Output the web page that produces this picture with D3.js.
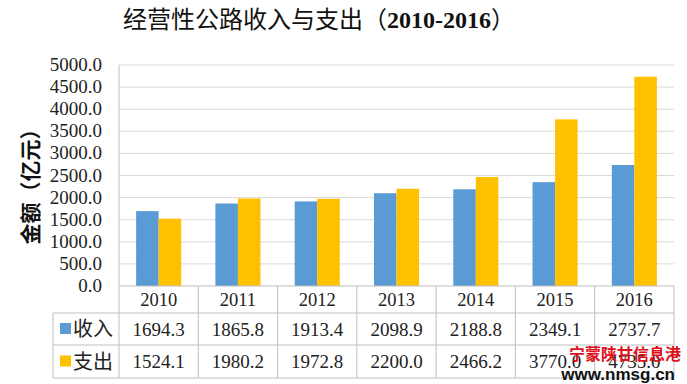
<!DOCTYPE html>
<html>
<head>
<meta charset="utf-8">
<script src="https://cdn.jsdelivr.net/npm/d3@7"></script>
<style>
  body { margin: 0; background: #fff; }
  svg text { font-family: "Liberation Serif", "Noto Sans CJK SC", serif; }
</style>
</head>
<body>
<div id="chart"></div>
<script>
const years   = ["2010", "2011", "2012", "2013", "2014", "2015", "2016"];
const income  = [1694.3, 1865.8, 1913.4, 2098.9, 2188.8, 2349.1, 2737.7];
const expense = [1524.1, 1980.2, 1972.8, 2200.0, 2466.2, 3770.0, 4735.0];
const seriesNames  = ["收入", "支出"];
const seriesColors = ["#5B9BD5", "#FFC000"];
const yTicks = [0, 500, 1000, 1500, 2000, 2500, 3000, 3500, 4000, 4500, 5000];

const W = 687, H = 384;
const PLOT = { left: 119, right: 674, top: 65, bottom: 286 };
const ROW = [286, 313, 345, 378];
const LEG_X = 53;
const GRID = "#D9D9D9", TABLE = "#BFBFBF";
const CJK = "'Noto Sans CJK SC', sans-serif";

const svg = d3.select("#chart").append("svg")
  .attr("width", W).attr("height", H);

const x0 = d3.scaleBand().domain(years).range([PLOT.left, PLOT.right]);
const x1 = d3.scaleBand().domain(seriesNames)
  .range([0, x0.bandwidth()]).paddingOuter(0.76);
const y = d3.scaleLinear().domain([0, 5000]).range([PLOT.bottom, PLOT.top]);

// ── Gridlines ──
svg.append("g").selectAll("line").data(yTicks.slice(1)).join("line")
  .attr("x1", PLOT.left).attr("x2", PLOT.right)
  .attr("y1", d => y(d)).attr("y2", d => y(d))
  .attr("stroke", GRID).attr("stroke-width", 1);

// ── Y tick labels ──
svg.append("g").selectAll("text").data(yTicks).join("text")
  .attr("x", 102).attr("y", d => y(d) + 6)
  .attr("text-anchor", "end")
  .style("font-size", "19px").style("fill", "#222")
  .text(d => d.toFixed(1));

// ── Bars ──
const series = [income, expense];
series.forEach((vals, si) => {
  svg.append("g").selectAll("rect").data(vals).join("rect")
    .attr("x", (d, i) => x0(years[i]) + x1(seriesNames[si]))
    .attr("width", x1.bandwidth())
    .attr("y", d => y(d))
    .attr("height", d => y(0) - y(d))
    .attr("fill", seriesColors[si]);
});

// ── Data table ──
const tg = svg.append("g").attr("stroke", TABLE).attr("stroke-width", 1);
tg.append("line").attr("x1", PLOT.left).attr("x2", PLOT.right)
  .attr("y1", ROW[0]).attr("y2", ROW[0]);
[ROW[1], ROW[2], ROW[3]].forEach(ry => {
  tg.append("line").attr("x1", LEG_X).attr("x2", PLOT.right)
    .attr("y1", ry).attr("y2", ry);
});
// vertical lines at category boundaries
const bounds = years.map(d => x0(d)).concat([PLOT.right]);
bounds.forEach((bx, i) => {
  tg.append("line").attr("x1", bx).attr("x2", bx)
    .attr("y1", i === 0 ? PLOT.top : ROW[0]).attr("y2", ROW[3]);
});
tg.append("line").attr("x1", LEG_X).attr("x2", LEG_X)
  .attr("y1", ROW[1]).attr("y2", ROW[3]);

// year row
svg.append("g").selectAll("text").data(years).join("text")
  .attr("x", d => x0(d) + x0.bandwidth() / 2)
  .attr("y", (ROW[0] + ROW[1]) / 2 + 6)
  .attr("text-anchor", "middle")
  .style("font-size", "18.5px").style("fill", "#222")
  .text(d => d);

// value rows
series.forEach((vals, si) => {
  const cy = (ROW[si + 1] + ROW[si + 2]) / 2;
  svg.append("g").selectAll("text").data(vals).join("text")
    .attr("x", (d, i) => x0(years[i]) + x0.bandwidth() / 2)
    .attr("y", cy + 6.5)
    .attr("text-anchor", "middle")
    .style("font-size", "19px").style("fill", "#222")
    .text(d => d.toFixed(1));
  svg.append("rect")
    .attr("x", 60).attr("y", cy - 6)
    .attr("width", 11).attr("height", 11)
    .attr("fill", seriesColors[si]);
  svg.append("text")
    .attr("x", 73).attr("y", cy + 7)
    .style("font-family", CJK)
    .style("font-size", "20px").style("fill", "#222")
    .text(seriesNames[si]);
});

// ── Title ──
const title = svg.append("text")
  .attr("x", 319).attr("y", 28)
  .attr("text-anchor", "middle")
  .style("font-size", "24px").style("fill", "#111");
title.append("tspan").style("font-family", CJK).text("经营性公路收入与支出（");
title.append("tspan").style("font-weight", "bold").text("2010-2016");
title.append("tspan").style("font-family", CJK).text("）");

// ── Y axis label ──
svg.append("text")
  .attr("transform", `translate(38,${(PLOT.top + PLOT.bottom) / 2 + 6}) rotate(-90)`)
  .attr("text-anchor", "middle")
  .style("font-family", CJK).style("font-weight", "bold")
  .style("font-size", "21px").style("fill", "#111")
  .text("金额（亿元）");

// ── Watermark ──
svg.append("text")
  .attr("x", 681).attr("y", 360)
  .attr("text-anchor", "end")
  .style("font-family", CJK).style("font-weight", "bold")
  .style("font-size", "16px").style("fill", "#E0101A")
  .text("宁蒙陕甘信息港");
svg.append("text")
  .attr("x", 675).attr("y", 380)
  .attr("text-anchor", "end")
  .style("font-family", "'Liberation Sans', sans-serif").style("font-weight", "bold")
  .style("font-size", "17px").style("fill", "#111")
  .text("www.nmsg.cn");
</script>
</body>
</html>
